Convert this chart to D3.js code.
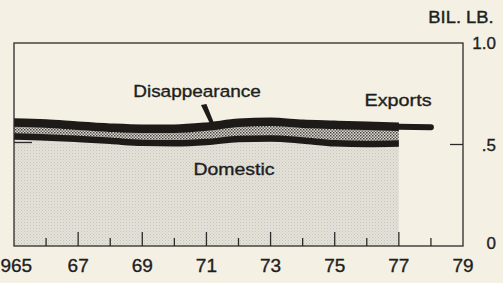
<!DOCTYPE html>
<html>
<head>
<meta charset="utf-8">
<script src="https://cdn.jsdelivr.net/npm/d3@7"></script>
<style>
  body { margin: 0; background: #f4f0e3; }
  text { font-family: "Liberation Sans", Arial, sans-serif; fill: #1e1e1e; stroke: #1e1e1e; stroke-width: 0.35px; }
</style>
</head>
<body>
<script>
const w = 503
const h = 283

// billion pounds, 1965-77
const years = [1965, 1966, 1967, 1968, 1969, 1970, 1971, 1972, 1973, 1974, 1975, 1976, 1977]
const total = [0.608, 0.603, 0.592, 0.583, 0.578, 0.578, 0.588, 0.607, 0.612, 0.602, 0.597, 0.592, 0.588]
const domestic = [0.540, 0.535, 0.527, 0.518, 0.508, 0.506, 0.512, 0.527, 0.530, 0.520, 0.506, 0.503, 0.505]
const projYears = [1977, 1978]
const projected = [0.588, 0.585]
const yTicks = [0, 0.5, 1.0]
const yTickLabels = ['0', '.5', '1.0']
const xLabelYears = [1965, 1967, 1969, 1971, 1973, 1975, 1977, 1979]
const xTickLabels = ['1965', '67', '69', '71', '73', '75', '77', '79']
const tickYears = d3.range(1966, 1979)

const padL = 14, padR = 463, padT = 43, padB = 246

const x = d3.scaleLinear().domain([1965, 1979]).range([padL, padR])
const y = d3.scaleLinear().domain([0, 1]).range([padB, padT])

const svg = d3.select('body').append('svg').attr('width', w).attr('height', h)

const defs = svg.append('defs')
const dom = defs.append('pattern').attr('id', 'dom').attr('width', 3).attr('height', 3)
  .attr('patternUnits', 'userSpaceOnUse')
dom.append('rect').attr('width', 3).attr('height', 3).attr('fill', '#e4e1d8')
dom.append('rect').attr('width', 1).attr('height', 1).attr('fill', '#c8c5bd')
dom.append('rect').attr('x', 1.5).attr('y', 1.5).attr('width', 1).attr('height', 1).attr('fill', '#d2cfc7')

const exp = defs.append('pattern').attr('id', 'exp').attr('width', 3).attr('height', 3)
  .attr('patternUnits', 'userSpaceOnUse')
exp.append('rect').attr('width', 3).attr('height', 3).attr('fill', '#dcd8cc')
exp.append('rect').attr('width', 1.5).attr('height', 1.5).attr('fill', '#444')
exp.append('rect').attr('x', 1.5).attr('y', 1.5).attr('width', 1.5).attr('height', 1.5).attr('fill', '#666')

const rows = years.map((yr, i) => ({ yr, t: total[i], d: domestic[i] }))
const curve = d3.curveMonotoneX

svg.append('path').datum(rows)
  .attr('d', d3.area().x(d => x(d.yr)).y0(y(0)).y1(d => y(d.d)).curve(curve))
  .attr('fill', 'url(#dom)')

svg.append('path').datum(rows)
  .attr('d', d3.area().x(d => x(d.yr)).y0(d => y(d.d)).y1(d => y(d.t)).curve(curve))
  .attr('fill', 'url(#exp)')

svg.append('path').datum(rows)
  .attr('d', d3.line().x(d => x(d.yr)).y(d => y(d.d)).curve(curve))
  .attr('fill', 'none').attr('stroke', '#1e1a18').attr('stroke-width', 6.5)

svg.append('path').datum(rows)
  .attr('d', d3.line().x(d => x(d.yr)).y(d => y(d.t)).curve(curve))
  .attr('fill', 'none').attr('stroke', '#1e1a18').attr('stroke-width', 8.5)

svg.append('path').datum(projYears.map((yr, i) => [yr, projected[i]]))
  .attr('d', d3.line().x(d => x(d[0])).y(d => y(d[1])))
  .attr('fill', 'none').attr('stroke', '#1e1a18').attr('stroke-width', 6)
  .attr('stroke-linecap', 'round')

// frame
svg.append('rect').attr('x', padL).attr('y', padT).attr('width', padR - padL).attr('height', padB - padT)
  .attr('fill', 'none').attr('stroke', '#2a2a2a').attr('stroke-width', 1.3)

// year ticks pointing up
svg.selectAll('line.yt').data(tickYears).enter().append('line')
  .attr('x1', d => x(d)).attr('x2', d => x(d))
  .attr('y1', padB).attr('y2', d => padB - (d % 2 ? 14 : 8))
  .attr('stroke', '#2a2a2a').attr('stroke-width', 1.3)

svg.selectAll('text.xl').data(xLabelYears).enter().append('text')
  .attr('x', (d, i) => i === 0 ? x(d) - 3 : x(d)).attr('y', 272)
  .attr('text-anchor', 'middle').style('font-size', '19px')
  .text((d, i) => xTickLabels[i])

// .5 ticks
svg.append('line').attr('x1', padL).attr('x2', padL + 18).attr('y1', y(0.5) - 2).attr('y2', y(0.5) - 2)
  .attr('stroke', '#2a2a2a').attr('stroke-width', 1.3)
svg.append('line').attr('x1', padR - 13).attr('x2', padR).attr('y1', y(0.5)).attr('y2', y(0.5))
  .attr('stroke', '#2a2a2a').attr('stroke-width', 1.3)

svg.selectAll('text.yl').data(yTicks).enter().append('text')
  .attr('x', 496).attr('y', d => y(d) + (d === 0 ? 3 : 6))
  .attr('text-anchor', 'end').style('font-size', '17px')
  .text((d, i) => yTickLabels[i])

function label(txt, cx, by, size, sx) {
  svg.append('text').attr('transform', `translate(${cx},${by}) scale(${sx},1)`)
    .attr('text-anchor', 'middle').style('font-size', size + 'px').text(txt)
}
label('BIL. LB.', 461, 23, 16, 1.15)
label('Disappearance', 197, 97, 16.5, 1.15)
label('Exports', 398, 106, 16.5, 1.2)
label('Domestic', 234, 175, 16.5, 1.18)

// pointer wedge
svg.append('path')
  .attr('d', `M${x(1970.83)},105 L${x(1971.0)},104 L${x(1971.25)},${y(0.59) - 2} L${x(1971.12)},${y(0.59) - 2} Z`)
  .attr('fill', '#1e1a18')
</script>
</body>
</html>
